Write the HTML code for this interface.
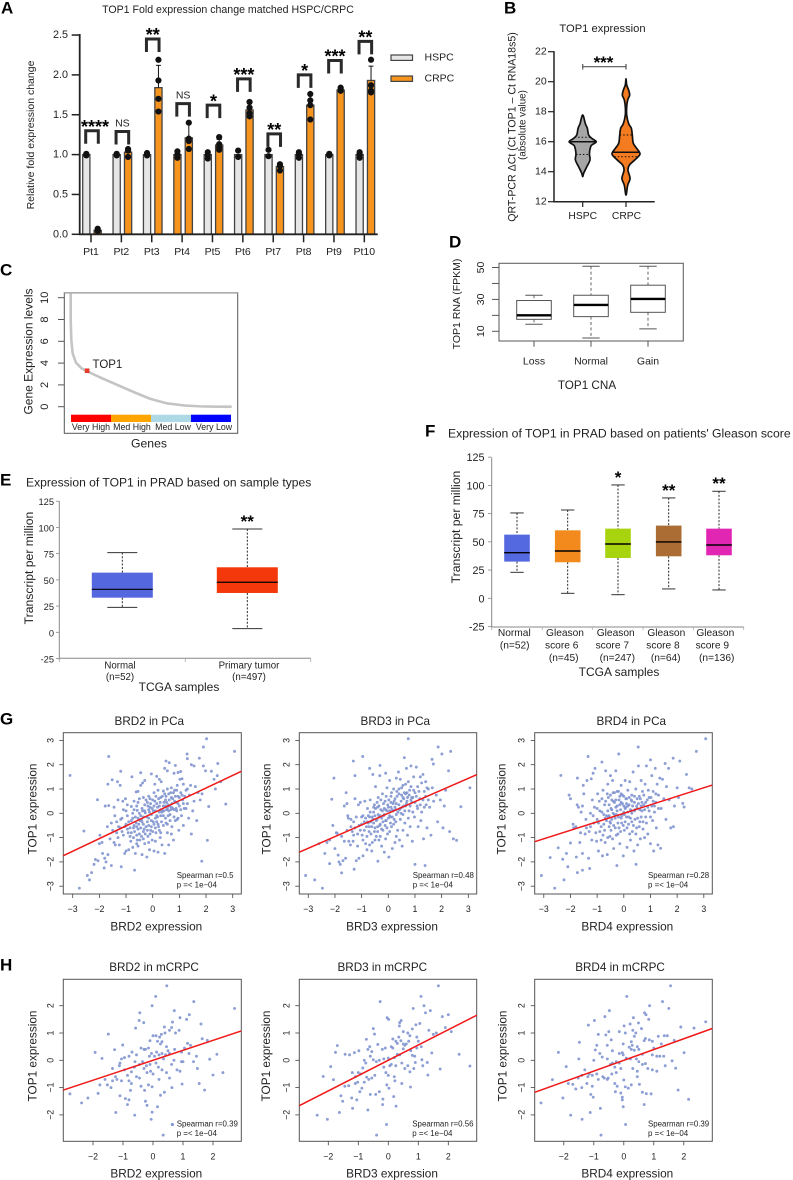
<!DOCTYPE html>
<html lang="en">
<head>
<meta charset="utf-8">
<title>TOP1 expression figure</title>
<style>
html,body{margin:0;padding:0;background:#fff;}
svg{display:block;font-family:"Liberation Sans",Arial,sans-serif;}
text{fill:#222;}
.pl{font-size:17px;font-weight:bold;fill:#000;dominant-baseline:central;}
.m{text-anchor:middle;dominant-baseline:central;}
.s{dominant-baseline:central;}
</style>
</head>
<body>
<svg id="figure" width="793" height="1180" viewBox="0 0 793 1180" xmlns="http://www.w3.org/2000/svg">
  <rect x="0" y="0" width="793" height="1180" fill="#fff"/>

  <text class="pl" x="1" y="8">A</text>
  <text class="pl" x="504" y="8">B</text>
  <text class="pl" x="0" y="270">C</text>
  <text class="pl" x="449" y="242">D</text>
  <text class="pl" x="0" y="480">E</text>
  <text class="pl" x="425" y="431">F</text>
  <text class="pl" x="0" y="719">G</text>
  <text class="pl" x="0" y="965">H</text>

  <g id="panelA">
    <text class="m" x="228" y="10" font-size="10.6">TOP1 Fold expression change matched HSPC/CRPC</text>
    <text class="m" transform="translate(31 135) rotate(-90)" font-size="10.5">Relative fold expression change</text>
    <rect x="391" y="55" width="21.5" height="5.4" fill="#e6e6e6" stroke="#444" stroke-width="1.2"/>
    <text class="s" x="424.5" y="57.3" font-size="10.5">HSPC</text>
    <rect x="391" y="76" width="21.5" height="5.4" fill="#f7941d" stroke="#444" stroke-width="1.2"/>
    <text class="s" x="424.5" y="78.3" font-size="10.5">CRPC</text>
  </g>

  <g id="panelB">
    <text class="m" x="602.5" y="29" font-size="11.2">TOP1 expression</text>
    <text class="m" transform="translate(512.7 127) rotate(-90)" font-size="10.6">QRT-PCR ΔCt (Ct TOP1 – Ct RNA18s5)</text>
    <text class="m" transform="translate(523 125) rotate(-90)" font-size="9.8">(absolute value)</text>
  </g>

  <g id="panelC">
    <text class="m" transform="translate(28.3 351.5) rotate(-90)" font-size="12">Gene Expression levels</text>
    <text class="m" x="149" y="443.3" font-size="12.2">Genes</text>
  </g>

  <g id="panelD">
    <text class="m" transform="translate(457 304) rotate(-90)" font-size="10.5">TOP1 RNA (FPKM)</text>
    <text class="m" x="587" y="385.7" font-size="11.7">TOP1 CNA</text>
  </g>

  <g id="panelE">
    <text class="s" x="26" y="482.3" font-size="12.1">Expression of TOP1 in PRAD based on sample types</text>
    <text class="m" transform="translate(29 568) rotate(-90)" font-size="12.2">Transcript per million</text>
    <text class="m" x="179" y="687" font-size="12">TCGA samples</text>
  </g>

  <g id="panelF">
    <text class="s" x="448" y="433.3" font-size="12.2">Expression of TOP1 in PRAD based on patients' Gleason score</text>
    <text class="m" transform="translate(456 527) rotate(-90)" font-size="12.2">Transcript per million</text>
    <text class="m" x="619" y="672" font-size="12">TCGA samples</text>
  </g>

  <g id="panelG"></g>
  <g id="panelH"></g>
</svg>

<script>
/* ---------- Panel A data ---------- */
const patients = ['Pt1','Pt2','Pt3','Pt4','Pt5','Pt6','Pt7','Pt8','Pt9','Pt10'];
const hspcMeans = [1,1,1,1,1,1,1,1,1,1];
const crpcMeans = [0.05,1.03,1.84,1.21,1.12,1.56,0.85,1.62,1.81,1.93];
const crpcErrors = [0.02,0.05,0.28,0.18,0.07,0.08,0.04,0.15,0.02,0.18];
const hspcDots = [[1.01,0.99,1.0],[1.01,0.99,1.0],[1.02,0.99,1.0],[1.04,1.0,0.96],[1.03,0.99,0.95],[1.05,0.97],[1.06,0.98],[1.03,1.0,0.96],[1.01,0.99,1.0],[1.03,1.0,0.96]];
const crpcDots = [[0.07,0.05,0.04],[1.07,1.05,0.97],[2.19,1.93,1.70,1.54],[1.40,1.20,1.17,1.07],[1.22,1.13,1.09,1.06],[1.66,1.59,1.52,1.48],[0.88,0.86,0.80],[1.76,1.68,1.62,1.44],[1.84,1.82,1.80],[2.19,1.87,1.80,1.78]];
const sigLabels = ['****','NS','**','NS','*','***','**','*','***','**'];
const sigTops = [1.3,1.29,2.45,1.64,1.62,1.95,1.26,2.0,2.18,2.42];
const barTicks = [0,0.5,1,1.5,2,2.5];
const barTickLabels = ['0.0','0.5','1.0','1.5','2.0','2.5'];

/* ---------- Panel B data ---------- */
const violinTicks = [12,14,16,18,20,22];
const violinGroups = ['HSPC','CRPC'];
const hspcViolinValues = [17.78,17.2,16.9,16.44,16.2,16.0,15.8,15.67,15.2,14.78,14.33,13.9,13.67];
const hspcViolinWidths = [0,0.19,0.33,0.43,0.68,0.97,0.68,0.57,0.48,0.52,0.29,0.07,0];
const crpcViolinValues = [20.2,19.78,19.44,19.1,18.78,18.33,17.78,17.2,16.9,16.44,15.9,15.56,15.18,14.82,14.44,14.1,13.55,13.1,12.44];
const crpcViolinWidths = [0,0.05,0.19,0.26,0.12,0.05,0.05,0.19,0.38,0.45,0.52,0.76,1,0.67,0.24,0.14,0.29,0.12,0];
const hspcQuartiles = [15.15,16.0,16.3];
const crpcQuartiles = [15.0,15.3,16.45];

/* ---------- Panel C data ---------- */
const rankFractions = [0,0,0.004,0.012,0.033,0.068,0.104,0.182,0.286,0.39,0.493,0.597,0.701,0.805,0.909,1];
const rankExpression = [10.4,7.95,6.1,4.9,4.04,3.51,3.24,2.69,2.02,1.35,0.73,0.31,0.12,0.03,0,0];
const rankTicks = [0,2,4,6,8,10];
const top1Rank = 0.102;
const top1Level = 3.3;
const tierNames = ['Very High','Med High','Med Low','Very Low'];
const tierColors = ['#ff0000','#ffa500','#add8e6','#0000ff'];

/* ---------- Panel D data ---------- */
const cnaGroups = ['Loss','Normal','Gain'];
const cnaLow = [14.4,5.8,11.5];
const cnaQ1 = [17.5,19.2,21.9];
const cnaMedian = [20,26.5,30.3];
const cnaQ3 = [29.3,32.6,38.9];
const cnaHigh = [32.6,50.8,50.8];
const cnaTicks = [10,20,30,40,50];
const cnaTickLabels = ['10','','30','','50'];

/* ---------- Panel E data ---------- */
const typeLabels = [['Normal','(n=52)'],['Primary tumor','(n=497)']];
const typeLow = [23.8,3.5];
const typeQ1 = [33,37.5];
const typeMedian = [41,47.7];
const typeQ3 = [56.9,62];
const typeHigh = [76,98.5];
const typeStars = ['','**'];
const tpmTicks = [-25,0,25,50,75,100,125];

/* ---------- Panel F data ---------- */
const gleasonLabels = [['Normal','(n=52)'],['Gleason','score 6','(n=45)'],['Gleason','score 7','(n=247)'],['Gleason','score 8','(n=64)'],['Gleason','score 9','(n=136)']];
const gleasonLow = [23,4.4,3.2,8.3,7.4];
const gleasonQ1 = [32.5,31.9,35.7,37.2,38.1];
const gleasonMedian = [40.4,41.9,48.1,49.9,47.2];
const gleasonQ3 = [56.4,60.2,61.7,64.4,61.7];
const gleasonHigh = [75.6,78.2,100.4,88.9,94.8];
const gleasonStars = ['','','*','**','**'];
const gleasonColors = ['#5468e0','#f28a1e','#a8d30f','#ab6d33','#e126b4'];

/* ---------- Panels G / H data ---------- */
const pcaTicks = [-3,-2,-1,0,1,2,3];
const mcrpcTicks = [-2,-1,0,1,2];
const slopes = {brd2Pca:0.52,brd3Pca:0.48,brd4Pca:0.35,brd2Mcrpc:0.365,brd3Mcrpc:0.56,brd4Mcrpc:0.395};

const brd2PcaPoints = [[-3.1,1.56],[-2.75,-3.08],[-2.58,-.73],[-2.45,-2.56],[-2.37,-2.74],[-2.29,-2.44],[-2.2,-2.1],[-2.15,-1.9],[-2.05,-1.95],[-2.07,.56],[-1.98,-.9],[-2,-1.25],[-1.9,-1.2],[-1.88,-1.65],[-1.82,-2.25],[-1.8,-1.85],[-1.75,-2],[-1.7,-.55],[-1.68,-1.7],[-1.65,2.34],[-1.68,1.2],[-1.78,.3],[-1.65,.32],[-1.6,-1.05],[-1.55,-.4],[-1.55,-2.15],[-1.52,1.38],[-1.5,-.7],[-1.45,-1.2],[-1.45,.25],[-1.42,-.1],[-1.4,-1.3],[-1.35,-.35],[-1.32,1.3],[-1.3,-1],[-1.3,.55],[-1.25,-1.3],[-1.22,1.15],[-1.2,1.73],[-1.2,-.6],[-1.18,-2.2],[-1.15,-.2],[-1.12,.5],[-1.1,-.9],[-1.05,-1.65],[-1.02,.6],[-1,-1.55],[-1,.1],[-1,-.45],[-.95,.35],[-.92,-.8],[-.9,-1.5],[-.85,-.95],[-.8,-.3],[-.8,.28],[-.78,1.5],[-.75,-1.4],[-.72,-.6],[-.7,.5],[-.68,-2.34],[-.65,-.15],[-.65,-1.65],[-.62,.88],[-.6,-.9],[-.58,.12],[-.55,.9],[-.55,-1.35],[-.52,-.45],[-.5,.6],[-.48,-1.1],[-.45,1.67],[-.45,1.15],[-.42,-.25],[-.4,-1.7],[-.4,.2],[-.38,1.25],[-.35,-.75],[-.35,.65],[-.3,1.35],[-.3,-1.25],[-.28,.02],[-.25,-.55],[-.22,-1.8],[-.2,.45],[-.18,-.95],[-.15,.7],[-.15,-.2],[-.12,-1.5],[-.1,.25],[-.08,-.7],[-.05,1.62],[-.05,-.05],[-.02,-1.1],[0,.55],[.02,-.35],[.05,.85],[.05,-1.55],[.08,1.2],[.1,.1],[.12,-.8],[.15,1.52],[.15,.4],[.18,-.15],[.2,.95],[.2,-1.6],[.22,-.55],[.25,1.4],[.25,.3],[.28,-1],[.3,.65],[.3,-.1],[.32,1.3],[.35,-1.3],[.38,.1],[.4,.92],[.4,-.5],[.42,.45],[.45,1.85],[.45,-1.65],[.48,-.2],[.5,2.15],[.5,.7],[.52,.15],[.55,1.0],[.55,1.75],[.55,-.8],[.58,.35],[.6,-1.3],[.62,2.08],[.62,.55],[.65,-.05],[.68,.85],[.7,1.05],[.7,.25],[.72,-.55],[.75,.6],[.78,-1.1],[.8,1.65],[.8,.15],[.82,.95],[.85,1.97],[.85,-.3],[.88,.45],[.92,1.15],[.95,1.68],[.95,.7],[.98,-.7],[1,.3],[1.02,1.4],[1.05,1.72],[1.05,.85],[1.08,-.1],[1.1,1.42],[1.12,.55],[1.15,1.2],[1.15,-.5],[1.18,.2],[1.25,.95],[1.29,2.44],[1.3,2.25],[1.3,1.0],[1.3,.4],[1.35,-.2],[1.38,.75],[1.42,1.15],[1.45,2.0],[1.45,-.85],[1.5,.1],[1.55,1.95],[1.55,.5],[1.6,1.1],[1.65,-.3],[1.7,.85],[1.75,2.27],[1.78,.55],[1.85,.8],[1.84,-1.97],[1.9,2.73],[1.9,1.95],[1.98,1.75],[2.02,3.07],[2.05,-1.11],[2.1,.28],[2.2,1.73],[2.3,1.4],[2.35,1.0],[2.42,1.55],[2.44,2.05],[2.55,1.3],[2.74,.38],[3.07,2.55],[-.6,.3],[-.3,.35],[-.15,.15],[.35,.05],[-.05,-.55],[.15,-.35],[.25,.05],[-.45,-.1],[-.7,-.5],[-.2,-.35],[.4,.3],[.6,.1],[.05,.3],[-.1,.6],[.1,-.6],[.48,.55],[-.35,-.45],[-.55,-.65],[.72,.4],[.9,.1],
[-1.05,-.55],[-.95,-.65],[-.9,-.35],[-.85,-.6],[-.8,-.8],[-.75,-.2],[-.72,-1.0],[-.68,-.75],[-.62,-.4],[-.6,-.55],[-.58,-1.1],[-.55,-.2],[-.5,-.85],[-.48,-.3],[-.45,-.6],[-.42,-.95],[-.4,-.35],[-.38,.1],[-.35,-.15],[-.32,-.65],[-.3,.1],[-.28,-.85],[-.25,.55],[-.22,-.15],[-.2,-.7],[-.18,.3],[-.15,-.5],[-.12,.05],[-.1,-.85],[-.08,.4],[-.05,-.3],[-.02,.2],[0,-.75],[.02,.1],[.05,-.45],[.08,.5],[.1,-.2],[.12,.7],[.15,-.1],[.18,.25],[.2,-.45],[.22,.6],[.25,-.7],[.28,.45],[.3,.15],[.33,-.35],[.36,.7],[.4,-.1],[.42,.1],[.45,.8],[.48,.3],[.5,-.4],[.52,.45],[.55,.2],[.58,-.1],[.6,.8],[.62,.3],[.65,-.3],[.68,.15],[.7,.65],[.75,.2],[.78,.85],[.8,-.15],[.82,.5],[.85,.7],[.88,.2],[.9,.95],[.92,-.25],[.95,.4],[1,.65],[1.05,.15],[1.1,.75],[1.15,.4],[1.2,.7],[1.25,.2],[-.95,-.1],[-.75,.0],[-.7,.15],[-.5,.0],[-.55,.45],[-1.1,.15],[-1.2,-.25],[-1.28,-.55],[-1.35,-.8],[-1.15,-.75],[-.82,-1.15],[-.6,-1.25],[-.35,-1.05],[-.15,-1.2],[.1,-1.15],[.3,-.8],[.55,-.45],[.7,-.85],[.95,-.2]];

const brd3PcaPoints = [[-3.1,-2.56],[-2.76,-2.74],[-2.47,-3.08],[-2.6,-1.25],[-2.3,-1.2],[-2.38,-1.65],[-2.2,-1.1],[-2.2,-2.07],[-2.12,.58],[-2.08,-.5],[-2.04,1.45],[-2,-1.45],[-1.95,-.8],[-1.92,-.82],[-1.88,-1.72],[-1.85,-2],[-1.8,-2.1],[-1.75,-.95],[-1.75,-2.45],[-1.7,-1.95],[-1.65,.3],[-1.6,-1.85],[-1.58,.85],[-1.55,.4],[-1.52,-.1],[-1.5,-.2],[-1.48,-1.15],[-1.42,-1.3],[-1.4,-.55],[-1.35,-.75],[-1.32,-1.15],[-1.31,2.15],[-1.3,-.35],[-1.28,-2.3],[-1.25,1.55],[-1.25,.6],[-1.2,-1.95],[-1.15,-1.35],[-1.12,.35],[-1.1,-.5],[-1.1,-1.85],[-1.05,.45],[-1,-.15],[-.98,-.9],[-.96,2.34],[-.95,-1.75],[-.9,-.35],[-.88,.5],[-.85,-1.25],[-.82,-.55],[-.8,-1.5],[-.78,.2],[-.75,-.1],[-.72,-.75],[-.7,1.85],[-.68,.55],[-.65,-.35],[-.62,-1.55],[-.6,-1.2],[-.58,1.6],[-.55,.05],[-.52,.35],[-.5,-.6],[-.48,1.1],[-.45,-.95],[-.42,-.25],[-.4,.25],[-.39,-1.97],[-.38,.65],[-.35,-1.1],[-.32,1.55],[-.31,1.97],[-.3,-.45],[-.28,.15],[-.25,-1.35],[-.22,.8],[-.2,-.7],[-.18,-.1],[-.15,-1.6],[-.12,.5],[-.1,1.65],[-.08,-.3],[-.05,1.05],[-.03,-.85],[0,.25],[.02,-1.8],[.05,1.35],[.08,-.15],[.1,.7],[.12,-.55],[.15,-1.45],[.18,.4],[.2,1.0],[.22,-.25],[.25,-1.2],[.28,.15],[.3,1.45],[.32,.9],[.35,-.7],[.38,1.7],[.4,.35],[.42,-1.1],[.45,1.4],[.48,.0],[.5,.75],[.52,-1.35],[.55,1.15],[.58,.3],[.6,2.29],[.62,-.4],[.65,.8],[.68,1.85],[.7,.5],[.72,-.9],[.75,3.07],[.75,1.3],[.78,.1],[.8,.95],[.82,-.55],[.85,1.95],[.88,.45],[.9,-1.15],[.92,.65],[.95,1.5],[.98,-.15],[1,-2.1],[1,.85],[1.05,1.9],[1.08,.3],[1.1,1.1],[1.12,-.55],[1.18,.6],[1.2,1.5],[1.22,-.3],[1.25,.05],[1.3,1.6],[1.32,-1.05],[1.35,.9],[1.38,-2.15],[1.4,1.3],[1.42,.35],[1.45,-.6],[1.5,1.0],[1.55,.25],[1.6,-.9],[1.64,2.22],[1.65,1.05],[1.69,2.03],[1.7,.5],[1.8,.75],[1.85,-.35],[1.87,2.73],[1.95,.55],[2.01,2.44],[2.05,-.6],[2.1,.3],[2.15,.95],[2.26,1.75],[2.3,-.75],[2.34,2.55],[2.44,-1.05],[2.56,-1.11],[2.72,.27],[3.06,1.05],[-.55,-.4],[-.35,-.15],[-.15,.2],[.05,-.1],[.25,.6],[.45,.2],[.65,.3],[.1,.45],[-.05,.1],[.3,-.05],[-.4,-.55],[.55,.65],[.85,.55],[-.6,-.15],[-.25,-.2],[-.75,-.4],[.15,.15],[-.1,-.3],[.4,.8],[.7,.85],
[-1.25,-.6],[-1.15,-.85],[-1.05,-.7],[-1,-.45],[-.95,-.1],[-.9,-.7],[-.85,-.2],[-.8,-.95],[-.78,-.35],[-.72,-.55],[-.7,-.15],[-.68,.05],[-.65,-.85],[-.62,-.55],[-.58,-.25],[-.55,.25],[-.52,-.75],[-.5,-.1],[-.48,.2],[-.45,-.3],[-.42,.45],[-.4,-.75],[-.38,-.05],[-.35,.3],[-.32,-.5],[-.3,-.1],[-.28,.55],[-.25,-.65],[-.22,.1],[-.2,-.35],[-.18,.4],[-.15,-.05],[-.12,-.5],[-.1,.15],[-.08,.7],[-.05,-.6],[-.02,.35],[0,-.2],[.02,.55],[.05,.1],[.08,-.4],[.1,.25],[.12,.85],[.15,-.15],[.18,.1],[.2,-.45],[.22,.5],[.25,.25],[.28,-.35],[.3,.4],[.33,.7],[.36,.05],[.4,1.0],[.42,.15],[.45,-.25],[.48,.5],[.5,1.05],[.52,.25],[.55,-.05],[.58,.6],[.6,.85],[.62,.1],[.65,1.2],[.68,.4],[.72,.65],[.75,-.2],[.78,.75],[.82,.3],[.85,1.1],[.88,.65],[.92,.05],[.95,.95],[1,.45],[1.05,.7],[1.1,.2],[1.15,.9],[1.2,.35],[1.25,1.25],[1.3,.55],[1.35,.25],[1.4,.7],[1.45,1.05],[1.5,.55],[-1.4,-.25],[-1.3,-.9],[-1.2,-.15],[-1.55,-.7],[-1.65,-1.15],[-.95,-1.1],[-.7,-1.3],[-.5,-1.1],[-.3,-.95],[-.1,-1.05],[.05,-.75],[.3,-.95],[.55,-.7]];

const brd4PcaPoints = [[-3.09,-2.56],[-2.76,-1.82],[-2.59,-3.08],[-2.46,-1.42],[-2.36,1.56],[-2.29,-1.89],[-2.24,-2.74],[-2.15,-1.65],[-2.1,-2.2],[-2,-1.22],[-2.05,.75],[-2,.6],[-1.9,-.45],[-1.88,-.6],[-1.8,-.55],[-1.78,-1.8],[-1.75,.35],[-1.74,1.45],[-1.74,-2.44],[-1.7,.25],[-1.65,-1.2],[-1.62,-.8],[-1.6,.05],[-1.55,.3],[-1.55,-2.34],[-1.55,-1.65],[-1.52,1.15],[-1.5,.8],[-1.45,-.85],[-1.42,-.25],[-1.4,-.6],[-1.38,1.35],[-1.34,2.34],[-1.32,-1.85],[-1.3,-.75],[-1.28,-2.27],[-1.25,.0],[-1.22,1.42],[-1.2,-1.1],[-1.18,.55],[-1.15,1.65],[-1.12,-.4],[-1.1,.25],[-1.08,1.85],[-1.02,-1.15],[-1,-.25],[-.98,.8],[-.95,-1.55],[-.92,.5],[-.9,-.75],[-.85,-1.1],[-.82,2.11],[-.82,.05],[-.8,-1.75],[-.78,.95],[-.75,-.45],[-.72,.35],[-.7,-1.2],[-.68,1.75],[-.65,-.1],[-.62,-1.7],[-.6,1.2],[-.58,.65],[-.55,-.55],[-.52,-.95],[-.5,1.55],[-.48,.2],[-.45,-.25],[-.42,1.35],[-.4,.85],[-.38,-1.45],[-.35,.45],[-.32,-.6],[-.3,1.75],[-.28,-.05],[-.26,-2.15],[-.25,.9],[-.22,-.85],[-.19,2.44],[-.18,.55],[-.15,-1.25],[-.12,.15],[-.1,1.15],[-.08,-.4],[-.05,.75],[-.02,-1.75],[0,.3],[.02,-.7],[.05,1.35],[.08,.6],[.1,-.15],[.12,-1.4],[.15,.95],[.18,-.45],[.2,.35],[.22,1.3],[.25,-1.1],[.28,.1],[.3,.75],[.32,-.75],[.35,1.7],[.38,-1.55],[.4,.45],[.42,-.25],[.45,1.0],[.46,-2.1],[.48,-.6],[.5,.2],[.52,-1.3],[.54,2.73],[.55,1.95],[.58,.7],[.6,-.35],[.62,-1.05],[.65,1.35],[.68,.1],[.7,.9],[.72,-.65],[.75,.35],[.78,-1.0],[.8,1.2],[.82,-.15],[.85,1.95],[.88,.55],[.9,-.85],[.92,.95],[.95,.1],[1,2.2],[1,-1.25],[1.02,.65],[1.05,1.55],[1.08,-.3],[1.1,.9],[1.12,-1.55],[1.15,.3],[1.18,1.85],[1.2,.45],[1.22,-.6],[1.25,1.2],[1.28,-1.3],[1.3,.75],[1.35,1.45],[1.38,-1.44],[1.4,.2],[1.45,1.4],[1.5,.6],[1.55,2.05],[1.58,-.25],[1.6,1.1],[1.68,1.85],[1.7,.55],[1.76,-.6],[1.85,2.27],[1.86,-.55],[1.9,.3],[2,1.05],[2.1,2.15],[2.05,.65],[2.21,.41],[2.26,.26],[2.35,1.6],[2.45,1.05],[2.55,1.0],[2.72,2.55],[3.07,3.07],[-.6,.1],[-.4,.0],[-.2,-.15],[0,.05],[.15,.05],[-.3,.25],[.25,-.2],[-.5,-.4],[-.1,.45],[.4,.1],[.65,.3],[-.7,-.2],[.05,.2],[-.15,.7],[.3,.5],[-.45,.55],
[-1.25,-.55],[-1.15,-.1],[-1.05,-.8],[-1,.2],[-.95,-.4],[-.9,.1],[-.85,-.55],[-.82,.6],[-.78,-.9],[-.75,-.05],[-.72,-.7],[-.68,.5],[-.65,-.3],[-.62,.8],[-.6,-1.0],[-.58,-.15],[-.55,.35],[-.52,-.35],[-.5,.75],[-.48,-.7],[-.45,.15],[-.42,-1.05],[-.4,.5],[-.38,-.5],[-.35,.85],[-.32,-.2],[-.3,.55],[-.28,-.9],[-.25,.3],[-.22,-.4],[-.2,.9],[-.18,-.6],[-.15,.35],[-.12,-.75],[-.1,.8],[-.08,-.1],[-.05,.4],[-.02,-.5],[0,.7],[.02,-.05],[.05,-.35],[.08,.25],[.1,.6],[.12,-.6],[.15,.3],[.18,-.15],[.2,.65],[.22,-.85],[.25,.15],[.28,.55],[.3,-.35],[.33,.3],[.36,-.5],[.4,.7],[.42,.15],[.45,-.85],[.48,.3],[.5,.6],[.52,-.2],[.55,.4],[.58,-.55],[.6,.15],[.62,.6],[.65,-.15],[.68,.45],[.72,-.35],[.75,.75],[.78,.15],[.82,.45],[.85,-.4],[.9,.25],[.95,.65],[1,-.15],[1.05,.3],[1.1,.5],[1.15,.05],[1.2,.8],[1.3,.2],[-.35,-.05],[-.55,-.1],[-.25,.1],[-.1,-.2],[.1,.4],[.3,.0]];

const brd2McrpcPoints = [[.46,2.73],[.09,2.34],[-.03,2.0],[1.36,2.15],[2.72,1.9],[.71,1.82],[-.44,1.74],[1.21,1.67],[.9,1.56],[1.12,1.5],[-.46,1.46],[-.31,1.38],[1.6,1.33],[-.58,1.18],[-1.49,.96],[-1.93,.29],[-1.7,.07],[-1.28,.39],[-1.01,.56],[-2.77,-1.23],[-2.38,-1.56],[-2.17,-1.38],[-1.83,-1.21],[-1.77,-.9],[-1.24,-1.91],[-.61,-2.01],[-.06,-2.16],[.34,-2.74],[.64,-2.35],[1.72,-1.09],[1.54,-.85],[2.33,-.45],[2,-.54],[2.13,.22],[1.89,.04],[1.81,.73],[1.64,.79],[1.25,.55],[1.15,.62],[1.05,.45],[.95,.3],[1.0,-.05],[1.45,.15],[1.35,-.05],[1.48,-.3],[1.2,.25],[.87,1.1],[.75,1.0],[.65,1.4],[.62,1.2],[.55,1.1],[.38,1.22],[.4,1.0],[.28,.95],[.22,.85],[.15,.7],[.1,.9],[.0,.9],[-.1,.72],[.25,.6],[.3,.68],[.45,.5],[.5,.35],[.42,.2],[.3,.25],[.2,.2],[.05,.15],[-.05,.25],[-.15,.45],[-.25,.4],[-.3,.4],[-.4,.45],[-.55,.2],[-.7,.3],[-.8,.15],[-.95,.1],[-1.05,.05],[-1.1,-.1],[-1.12,-.2],[-1.25,-.6],[-1.35,-.3],[-.95,-.35],[-.85,-.55],[-.72,-.42],[-.62,-.25],[-.55,-.6],[-.45,-.65],[-.35,-.05],[-.3,-.3],[-.2,-.45],[-.1,-.15],[0,-.5],[.1,-.1],[.2,-.7],[.3,-.35],[.45,-.45],[.55,-.65],[.62,-.15],[.7,.0],[.8,-.35],[.9,-.4],[.95,-.05],[-1.6,-.7],[-1.52,-.9],[-1.4,-1.0],[-1.35,-.75],[-1.2,-.7],[-1.05,-.75],[-.8,-.75],[-.72,-.85],[-.4,-.95],[-.15,-.9],[-.03,-.97],[.25,-1.28],[.38,-1.17],[.63,-1.0],[.97,-.87],[-1.1,-1.3],[-.92,-1.4],[-.85,-1.62],[-.8,-1.45],[-.75,-1.1],[-.25,-1.5],[-.2,-1.65],[-.03,-1.9],[-.28,-1.1],[.15,-1.7],[-.22,-.2],[-.12,.15],[-.08,-.4],[.12,.3],[.18,-.25],[.35,.05],[-.45,-.15],[-.6,-.05],[.55,.25],[.72,.4]];

const brd3McrpcPoints = [[1.67,2.73],[1.09,2.34],[-.27,2.15],[1.19,2.0],[.83,1.9],[1.24,1.74],[1.4,1.82],[-.04,1.56],[.01,1.5],[1.8,1.6],[2,1.67],[.43,1.46],[.38,1.38],[.37,1.26],[-.5,1.16],[-.46,.96],[-.73,.77],[-1.7,.54],[-1.76,.29],[-1.44,.22],[-1.29,.2],[-1.92,-.23],[-2.17,-.59],[-1.83,-.71],[2.36,.22],[2.72,-.21],[1.73,-.32],[1.32,-.54],[-2.37,-2.01],[-2.03,-2.16],[-1.63,-1.91],[-.39,-2.74],[-.06,-2.35],[-1.52,-1.5],[-1.58,-1.3],[-1.19,-1.76],[-.68,-1.82],[-.19,-1.62],[.26,-1.68],[.18,-1.33],[.74,-.98],[2.1,1.05],[1.9,1.2],[1.6,1.0],[1.5,.95],[1.35,1.1],[1.05,1.35],[.92,1.3],[.8,1.15],[.72,.9],[.65,1.0],[.5,1.05],[.95,.85],[1.0,.7],[1.1,.5],[1.45,.27],[1.12,.02],[1.15,-.2],[1.3,-.08],[.95,.45],[.88,.15],[.8,.18],[.75,.35],[.6,.6],[.55,.55],[.5,.42],[.42,.72],[.3,.62],[.25,.7],[.15,.78],[.1,.5],[-.1,.45],[-.2,.4],[-.35,.58],[-.62,.5],[-.68,.4],[-.55,.32],[-.6,.15],[-.8,.0],[-.98,.35],[-1.13,.28],[-.75,-.1],[-.85,-.28],[-.5,.02],[-.4,-.05],[-.3,.0],[-.15,.05],[0,.08],[.2,.1],[.3,.22],[.38,.2],[.1,-.15],[.05,-.2],[.25,-.2],[.45,-.1],[.55,-.3],[.65,-.2],[.72,-.42],[.85,-.3],[.9,-.08],[-.15,-.25],[-.08,-.45],[0,-.55],[.2,-.6],[.22,-.75],[.45,-.85],[-.45,-.55],[-.55,-.65],[-.65,-.7],[-.8,-.8],[-1,-.45],[-1.02,-.8],[-1.1,-.85],[-1.2,-.45],[-1.32,-.93],[-1.45,-.95],[-1.22,-1.38],[-1.05,-1.45],[-.95,-1.15],[-.88,-1.02],[-.6,-1.25],[-.42,-1.25],[-.3,-1.15],[-.18,-1.42],[-.05,-.9],[.02,-1.02],[-1.1,-.6],[.5,.6],[-.72,-.62],[-.92,-.5],[.15,.45],[.68,.7],[.35,.85]];

const brd4McrpcPoints = [[1.56,2.73],[.1,2.34],[1.29,2.15],[.86,2.0],[1.5,1.9],[-.48,1.82],[.69,1.74],[.74,1.67],[-.63,1.6],[.32,1.56],[-.98,1.46],[.83,1.5],[2.73,1.41],[.49,1.37],[.21,1.33],[-1.18,1.29],[.01,1.26],[1.9,1.22],[2.34,1.18],[.59,1.16],[-1.48,.66],[-2.18,.29],[-1.92,-.23],[-2.38,-.71],[-2.76,-1.56],[-2.03,-1.38],[-1.77,-2.01],[-1.39,-2.16],[-1.12,-1.91],[-.78,-1.76],[-.76,-2.74],[.06,-2.35],[.68,-1.62],[2.16,-1.43],[1.81,-1.09],[2.01,.28],[1.61,-.02],[1.73,-.29],[.91,-1.23],[.62,-1.17],[-.5,1.05],[-.85,.95],[-.6,.93],[-.42,.75],[-.55,.55],[-.9,.55],[-.38,.35],[-.8,.25],[-.72,.12],[-.55,.05],[-1.0,.0],[-1.5,.05],[-.95,.38],[.05,1.0],[-.15,1.05],[.3,1.1],[.4,1.0],[.35,.88],[.72,.8],[.85,.75],[.95,.7],[1.15,.88],[1.35,.9],[1.45,.9],[1.68,.73],[1.25,.6],[1,.45],[.68,.72],[.45,.5],[.25,.68],[.28,.55],[.18,.48],[-.02,.6],[.25,.4],[.35,.37],[.5,.4],[.62,.22],[.95,.2],[1.1,.15],[1.2,.15],[1.33,.15],[-.05,.28],[-.15,.25],[-.02,.2],[.08,.08],[.22,.05],[.42,.05],[.5,-.05],[.62,-.15],[.72,-.12],[.8,-.3],[.95,-.35],[1.1,-.4],[1.38,-.2],[-.25,-.05],[-.15,-.1],[-.38,-.1],[-.45,-.15],[-.3,-.25],[-.25,-.45],[-.4,-.5],[-.1,-.3],[.3,-.3],[.45,-.4],[.45,-.6],[.25,-.9],[-.7,-.6],[-.65,-.65],[-.55,-.7],[-.52,-.65],[-.9,-.5],[-.85,-.7],[-1.05,-.55],[-1.15,-.5],[-1.3,-.35],[-1.4,-.55],[-1.2,-.6],[-1.52,-.65],[-1.7,-.88],[-1.85,-.85],[-1.6,-1.05],[-1.4,-1.0],[-1.23,-.85],[-1.05,-.95],[-.3,-.85],[-.28,-1.15],[-.22,-.95],[0,-.72],[.05,-.97],[.15,-1.02],[-1.1,-1.25],[-1.02,-1.35],[-.1,-1.2],[-.05,-1.35],[-.05,-1.45],[-.02,-1.7],[.52,-.88],[.75,-1.22]];

/* ---------- drawing helpers ---------- */
const NS = 'http://www.w3.org/2000/svg';
function mk(tag, attrs, parent) {
  const node = document.createElementNS(NS, tag);
  for (const k in attrs) node.setAttribute(k, attrs[k]);
  parent.appendChild(node);
  return node;
}
function named(node, name) {
  
  
  return node;
}
function line(p, x1, y1, x2, y2, stroke, w, name, dash) {
  const a = {x1, y1, x2, y2, stroke, 'stroke-width': w};
  if (dash) a['stroke-dasharray'] = dash;
  return named(mk('line', a, p), name);
}
function label(p, x, y, str, size, name, anchor, rot) {
  const a = {'font-size': size, 'dominant-baseline': 'central', 'text-anchor': anchor || 'middle'};
  if (rot) a.transform = 'translate(' + x + ' ' + y + ') rotate(-90)';
  else { a.x = x; a.y = y; }
  const t = mk('text', a, p);
  t.textContent = str;
  return named(t, name);
}
function stars(p, x, y, str, size, name) {
  const t = mk('text', {x: x, y: y + size * 0.2, 'font-size': size, 'font-weight': 'bold', 'text-anchor': 'middle', 'dominant-baseline': 'central', fill: '#000', style: 'fill:#000'}, p);
  t.textContent = str;
  return named(t, name);
}
function smoothPath(pts) {
  const n = pts.length;
  const at = i => pts[(i + n) % n];
  let d = 'M' + pts[0][0] + ' ' + pts[0][1];
  for (let i = 0; i < n; i++) {
    const p0 = at(i - 1), p1 = at(i), p2 = at(i + 1), p3 = at(i + 2);
    d += 'C' + (p1[0] + (p2[0] - p0[0]) / 6) + ' ' + (p1[1] + (p2[1] - p0[1]) / 6) + ' ' +
         (p2[0] - (p3[0] - p1[0]) / 6) + ' ' + (p2[1] - (p3[1] - p1[1]) / 6) + ' ' + p2[0] + ' ' + p2[1];
  }
  return d + 'Z';
}

/* ---------- Panel A ---------- */
(function () {
  const g = document.getElementById('panelA');
  const y = v => 234.3 - v * 79.7;
  const cx = i => 92 + i * 30.37;
  barTicks.forEach((v, i) => {
    line(g, 71.7, y(v), 79.7, y(v), '#222', 1.5, 'bar-y-tick');
    label(g, 68, y(v), barTickLabels[i], 10.8, 'bar-y-tick-label', 'end');
  });
  patients.forEach((name, i) => {
    const c = cx(i);
    const hx = c - 5.7, rx = c + 5.7, bw = 7.2;
    const hb = mk('rect', {x: hx - bw / 2, y: y(hspcMeans[i]), width: bw, height: y(0) - y(hspcMeans[i]), fill: i === 3 ? '#f7941d' : '#e6e6e6', stroke: '#444', 'stroke-width': 1.3}, g);
    named(hb, 'bar-hspc-' + name);
    const rb = mk('rect', {x: rx - bw / 2, y: y(crpcMeans[i]), width: bw, height: y(0) - y(crpcMeans[i]), fill: '#f7941d', stroke: '#444', 'stroke-width': 1.3}, g);
    named(rb, 'bar-crpc-' + name);
    line(g, rx, y(crpcMeans[i]), rx, y(crpcMeans[i] + crpcErrors[i]), '#111', 1, 'error-bar');
    line(g, rx - 2.5, y(crpcMeans[i] + crpcErrors[i]), rx + 2.5, y(crpcMeans[i] + crpcErrors[i]), '#111', 1, 'error-bar-cap');
    hspcDots[i].forEach(v => {
      named(mk('circle', {cx: hx, cy: y(v), r: 3.1, fill: '#111'}, g), 'hspc-point');
    });
    crpcDots[i].forEach(v => {
      named(mk('circle', {cx: rx, cy: y(v), r: 3.1, fill: '#111'}, g), 'crpc-point');
    });
    const top = y(sigTops[i]);
    const br = mk('path', {d: 'M' + (c - 6.3) + ' ' + (top + 13) + 'V' + top + 'H' + (c + 6.3) + 'V' + (top + 13), fill: 'none', stroke: '#2a2a2a', 'stroke-width': 3}, g);
    named(br, 'significance-bracket-' + name);
    if (sigLabels[i] === 'NS') label(g, c, top - 8, 'NS', 10.5, 'significance-label-' + name);
    else stars(g, c + (i === 0 ? 3 : 0), top - 7.5, sigLabels[i], 18, 'significance-stars-' + name);
    line(g, c - 1, y(0), c - 1, y(0) + 8, '#222', 1.5, 'bar-x-tick');
    label(g, c - 1, 252, name, 10.5, 'bar-x-tick-label');
  });
  line(g, 79.7, 34, 79.7, 235, '#222', 1.8, 'bar-y-axis');
  line(g, 79, y(0), 377.7, y(0), '#222', 1.8, 'bar-x-axis');
})();

/* ---------- Panel B ---------- */
(function () {
  const g = document.getElementById('panelB');
  const y = v => 201.7 - (v - 12) * 15;
  const xs = [582.7, 626];
  const maxHalf = 14;
  violinTicks.forEach(v => {
    line(g, 548, y(v), 554, y(v), '#222', 1.2, 'violin-y-tick');
    label(g, 546.7, y(v), String(v), 10.5, 'violin-y-tick-label', 'end');
  });
  function violin(cx, values, widths, quart, fill, name) {
    const pts = [];
    values.forEach((v, i) => pts.push([cx + widths[i] * maxHalf, y(v)]));
    for (let i = values.length - 2; i > 0; i--) pts.push([cx - widths[i] * maxHalf, y(values[i])]);
    const shape = mk('path', {d: smoothPath(pts), fill, stroke: '#111', 'stroke-width': 1.7, 'stroke-linejoin': 'round'}, g);
    named(shape, 'violin-' + name);
    const half = v => {
      for (let i = 1; i < values.length; i++) {
        if (v >= values[i]) {
          const t = (v - values[i]) / (values[i - 1] - values[i]);
          return (widths[i] + t * (widths[i - 1] - widths[i])) * maxHalf;
        }
      }
      return 0;
    };
    quart.forEach((q, i) => {
      const h = half(q);
      if (i === 1) line(g, cx - h, y(q), cx + h, y(q), '#111', 1.5, 'violin-median');
      else line(g, cx - h, y(q), cx + h, y(q), '#111', 1, 'violin-quartile', '1.5 2');
    });
  }
  violin(xs[0], hspcViolinValues, hspcViolinWidths, hspcQuartiles, '#a6a6a6', 'hspc');
  violin(xs[1], crpcViolinValues, crpcViolinWidths, crpcQuartiles, '#f47b20', 'crpc');
  violinGroups.forEach((n, i) => {
    line(g, xs[i], 201.7, xs[i], 207, '#222', 1.2, 'violin-x-tick');
    label(g, xs[i] + (i === 0 ? 0 : 0.5), 216.7, n, 10.3, 'violin-x-tick-label');
  });
  line(g, 554, 51.2, 554, 202.4, '#222', 1.5, 'violin-y-axis');
  line(g, 553.3, 201.7, 654.7, 201.7, '#222', 1.5, 'violin-x-axis');
  named(mk('path', {d: 'M' + xs[0] + ' 64V69.5M' + xs[0] + ' 66.7H' + xs[1] + 'M' + xs[1] + ' 64V69.5', fill: 'none', stroke: '#555', 'stroke-width': 1.2}, g), 'violin-significance-bracket');
  stars(g, 603.5, 59, '***', 17, 'violin-significance-stars');
})();

/* ---------- Panel C ---------- */
(function () {
  const g = document.getElementById('panelC');
  const y = v => 406.7 - v * 10.9;
  const x = r => 70.7 + r * 161;
  named(mk('rect', {x: 64.3, y: 292.7, width: 173.4, height: 140.6, fill: 'none', stroke: '#555', 'stroke-width': 1}, g), 'rank-plot-frame');
  rankTicks.forEach(v => {
    line(g, 58, y(v), 64.3, y(v), '#555', 1, 'rank-y-tick');
    label(g, 45, y(v), String(v), 11, 'rank-y-tick-label', 'middle', true);
  });
  const curve = mk('polyline', {points: rankFractions.map((r, i) => x(r) + ',' + Math.max(y(rankExpression[i]), 293)).join(' '), fill: 'none', stroke: '#c4c4c4', 'stroke-width': 2.6, 'stroke-linejoin': 'round'}, g);
  named(curve, 'rank-curve');
  line(g, 64.3, 293, 237.7, 293, '#b5b5b5', 1.4, 'rank-plot-top-edge');
  const marker = mk('rect', {x: x(top1Rank) - 2.3, y: y(top1Level) - 2.3, width: 4.6, height: 4.6, fill: '#e8392b'}, g);
  named(marker, 'top1-marker');
  label(g, 92.5, 365, 'TOP1', 11.5, 'top1-label', 'start');
  tierNames.forEach((n, i) => {
    named(mk('rect', {x: 71 + i * 40, y: 414.7, width: 40, height: 7.3, fill: tierColors[i]}, g), 'tier-bar-' + i);
    label(g, 91 + i * 41, 427, n, 8.8, 'tier-label');
  });
})();

/* ---------- Panel D ---------- */
(function () {
  const g = document.getElementById('panelD');
  const y = v => 331.3 - (v - 10) * 1.595;
  const xs = [534, 591, 648];
  named(mk('rect', {x: 499, y: 263.3, width: 184.3, height: 77.7, fill: 'none', stroke: '#666', 'stroke-width': 1.1}, g), 'cna-plot-frame');
  cnaTicks.forEach((v, i) => {
    line(g, 492, y(v), 499, y(v), '#555', 1, 'cna-y-tick');
    if (cnaTickLabels[i]) label(g, 481, y(v), cnaTickLabels[i], 10.5, 'cna-y-tick-label', 'middle', true);
  });
  cnaGroups.forEach((n, i) => {
    const c = xs[i];
    line(g, c, y(cnaHigh[i]), c, y(cnaQ3[i]), '#666', 1, 'cna-whisker-upper', '3 2.4');
    line(g, c, y(cnaQ1[i]), c, y(cnaLow[i]), '#666', 1, 'cna-whisker-lower', '3 2.4');
    line(g, c - 8.7, y(cnaHigh[i]), c + 8.7, y(cnaHigh[i]), '#555', 1, 'cna-whisker-cap');
    line(g, c - 8.7, y(cnaLow[i]), c + 8.7, y(cnaLow[i]), '#555', 1, 'cna-whisker-cap');
    named(mk('rect', {x: c - 17.3, y: y(cnaQ3[i]), width: 34.6, height: y(cnaQ1[i]) - y(cnaQ3[i]), fill: '#fff', stroke: '#555', 'stroke-width': 1}, g), 'cna-box-' + n);
    line(g, c - 17.3, y(cnaMedian[i]), c + 17.3, y(cnaMedian[i]), '#000', 2.4, 'cna-median');
    line(g, c, 341, c, 346.7, '#555', 1, 'cna-x-tick');
    label(g, c, 361.7, n, 10.5, 'cna-x-tick-label');
  });
})();

/* ---------- Panels E and F shared box plot ---------- */
function tpmBoxes(g, cfg, low, q1, med, q3, high, colors, starList) {
  const y = cfg.y;
  low.forEach((_, i) => {
    const c = cfg.xs[i];
    line(g, c, y(high[i]), c, y(q3[i]), '#111', 0.9, 'whisker-upper', '2 1.6');
    line(g, c, y(q1[i]), c, y(low[i]), '#111', 0.9, 'whisker-lower', '2 1.6');
    line(g, c - cfg.cap, y(high[i]), c + cfg.cap, y(high[i]), '#333', 1, 'whisker-cap');
    line(g, c - cfg.cap, y(low[i]), c + cfg.cap, y(low[i]), '#333', 1, 'whisker-cap');
    named(mk('rect', {x: c - cfg.w, y: y(q3[i]), width: 2 * cfg.w, height: y(q1[i]) - y(q3[i]), fill: colors[i]}, g), 'box-' + i);
    line(g, c - cfg.w, y(med[i]), c + cfg.w, y(med[i]), '#000', cfg.medW, 'box-median');
    if (starList[i]) stars(g, c, y(high[i]) - cfg.starGap, starList[i], cfg.starSize, 'box-significance-stars');
  });
}

/* ---------- Panel E ---------- */
(function () {
  const g = document.getElementById('panelE');
  const y = v => 632.3 - v * 1.0487;
  tpmTicks.forEach(v => {
    line(g, 56, y(v), 59.3, y(v), '#888', 0.8, 'sample-type-y-tick');
    label(g, 54, y(v) + 1, String(v), 9.3, 'sample-type-y-tick-label', 'end');
  });
  line(g, 59.3, 501, 59.3, 660, '#888', 1, 'sample-type-y-axis');
  line(g, 59.3, 658.3, 310.7, 658.3, '#888', 1, 'sample-type-x-axis');
  [59.3, 185.3, 310.7].forEach(x => line(g, x, 658.3, x, 662, '#aaa', 0.8, 'sample-type-x-tick'));
  tpmBoxes(g, {y, xs: [122.3, 247.3], w: 30.5, cap: 15, medW: 1.2, starGap: 11, starSize: 17}, typeLow, typeQ1, typeMedian, typeQ3, typeHigh, ['#5567de', '#f4380c'], typeStars);
  const lx = [120, 249];
  typeLabels.forEach((lines, i) => lines.forEach((t, k) => label(g, lx[i], 666 + k * 11.7, t, 9.7, 'sample-type-label')));
})();

/* ---------- Panel F ---------- */
(function () {
  const g = document.getElementById('panelF');
  const y = v => 598.3 - v * 1.129;
  tpmTicks.forEach(v => {
    line(g, 488, y(v), 491.7, y(v), '#888', 0.8, 'gleason-y-tick');
    label(g, 484.5, y(v) + 1, String(v), 10.8, 'gleason-y-tick-label', 'end');
  });
  line(g, 491.7, 457.7, 491.7, 627.5, '#888', 1, 'gleason-y-axis');
  line(g, 491.7, 627, 743.7, 627, '#888', 1, 'gleason-x-axis');
  [491.7, 542.3, 592.3, 643, 693.3, 743.7].forEach(x => line(g, x, 627, x, 630, '#aaa', 0.8, 'gleason-x-tick'));
  tpmBoxes(g, {y, xs: [517, 567.7, 618, 668.7, 719], w: 12.8, cap: 6.7, medW: 1.4, starGap: 11, starSize: 17}, gleasonLow, gleasonQ1, gleasonMedian, gleasonQ3, gleasonHigh, gleasonColors, gleasonStars);
  const lx = [[514.3,514.7],[565,561.7,563.7],[615.7,612.3,617.3],[666.3,663,665.7],[715.3,712.3,716.7]];
  gleasonLabels.forEach((lines, i) => lines.forEach((t, k) => {
    label(g, lx[i][k], 633.3 + k * 12.7, t, 10.2, 'gleason-label');
  }));
})();

/* ---------- Panels G and H scatter ---------- */
function scatter(g, cfg, points, slope) {
  const x = v => cfg.x0 + v * cfg.ux;
  const y = v => cfg.y0 - v * cfg.uy;
  const xMin = (cfg.left - cfg.x0) / cfg.ux, xMax = (cfg.right - cfg.x0) / cfg.ux;
  named(mk('rect', {x: cfg.left, y: cfg.top, width: cfg.right - cfg.left, height: cfg.bottom - cfg.top, fill: 'none', stroke: '#555', 'stroke-width': 1}, g), cfg.name + '-frame');
  cfg.ticks.forEach(v => {
    line(g, x(v), cfg.bottom, x(v), cfg.bottom + 4, '#444', 0.8, cfg.name + '-x-tick');
    label(g, x(v), cfg.bottom + 15, String(v).replace('-', '\u2212'), 8.8, cfg.name + '-x-tick-label');
    line(g, cfg.left - 4, y(v), cfg.left, y(v), '#444', 0.8, cfg.name + '-y-tick');
    label(g, cfg.left - 13, y(v), String(v).replace('-', '\u2212'), 8.8, cfg.name + '-y-tick-label', 'middle', true);
  });
  points.forEach(p => {
    const dot = mk('circle', {cx: x(p[0]), cy: y(p[1]), r: 1.45, fill: '#8094cf', 'fill-opacity': 0.9}, g);
    
    
  });
  line(g, cfg.left, y(slope * xMin), cfg.right, y(slope * xMax), '#f01818', 1.5, cfg.name + '-regression-line');
  label(g, cfg.titleX, cfg.titleY, cfg.title, 11.7, cfg.name + '-title');
  label(g, cfg.xTitleX, cfg.xTitleY, cfg.xTitle, 11.8, cfg.name + '-x-axis-title');
  label(g, cfg.yTitleX, cfg.yTitleY, 'TOP1 expression', 11.8, cfg.name + '-y-axis-title', 'middle', true);
  label(g, cfg.noteX, cfg.noteY, cfg.note, 7.9, cfg.name + '-spearman', 'start');
  label(g, cfg.noteX, cfg.noteY + 9.7, 'p =< 1e\u221204', 7.9, cfg.name + '-p-value', 'start');
}
(function () {
  const g = document.getElementById('panelG');
  const h = document.getElementById('panelH');
  const gBase = {ux: 26.67, uy: 24.3, y0: 813.3, top: 732.7, bottom: 894, ticks: pcaTicks, titleY: 721.3, xTitleY: 926.7, yTitleY: 809, noteY: 875.3};
  const hBase = {ux: 30, uy: 27.3, y0: 1060.3, top: 979.3, bottom: 1141.3, ticks: mcrpcTicks, titleY: 967.3, xTitleY: 1173.3, yTitleY: 1056, noteY: 1124};
  scatter(g, Object.assign({}, gBase, {name: 'brd2-pca', x0: 152.7, left: 63.3, right: 241.3, yTitleX: 32.3, title: 'BRD2 in PCa', titleX: 149.3, xTitle: 'BRD2 expression', xTitleX: 156.3, note: 'Spearman r=0.5', noteX: 176.7}), brd2PcaPoints, slopes.brd2Pca);
  scatter(g, Object.assign({}, gBase, {name: 'brd3-pca', x0: 388.3, left: 299.3, right: 476.7, yTitleX: 266.7, title: 'BRD3 in PCa', titleX: 395.3, xTitle: 'BRD3 expression', xTitleX: 392, note: 'Spearman r=0.48', noteX: 412.7}), brd3PcaPoints, slopes.brd3Pca);
  scatter(g, Object.assign({}, gBase, {name: 'brd4-pca', x0: 623.8, left: 534.7, right: 712.3, yTitleX: 501.7, title: 'BRD4 in PCa', titleX: 631.3, xTitle: 'BRD4 expression', xTitleX: 627.3, note: 'Spearman r=0.28', noteX: 648}), brd4PcaPoints, slopes.brd4Pca);
  scatter(h, Object.assign({}, hBase, {name: 'brd2-mcrpc', x0: 153, left: 63.3, right: 241.3, yTitleX: 32.3, title: 'BRD2 in mCRPC', titleX: 154, xTitle: 'BRD2 expression', xTitleX: 156.3, note: 'Spearman r=0.39', noteX: 176.7}), brd2McrpcPoints, slopes.brd2Mcrpc);
  scatter(h, Object.assign({}, hBase, {name: 'brd3-mcrpc', x0: 388.3, left: 299.3, right: 476.7, yTitleX: 266, title: 'BRD3 in mCRPC', titleX: 382.3, xTitle: 'BRD3 expression', xTitleX: 392, note: 'Spearman r=0.56', noteX: 412.3}), brd3McrpcPoints, slopes.brd3Mcrpc);
  scatter(h, Object.assign({}, hBase, {name: 'brd4-mcrpc', x0: 623.8, left: 534.7, right: 712.3, yTitleX: 502.3, title: 'BRD4 in mCRPC', titleX: 620, xTitle: 'BRD4 expression', xTitleX: 627.3, note: 'Spearman r=0.39', noteX: 648}), brd4McrpcPoints, slopes.brd4Mcrpc);
  named(mk('circle', {cx: 172.5, cy: 1124.6, r: 1.45, fill: '#8094cf'}, h), 'scatter-point-beside-note');
})();
</script>
</body>
</html>
